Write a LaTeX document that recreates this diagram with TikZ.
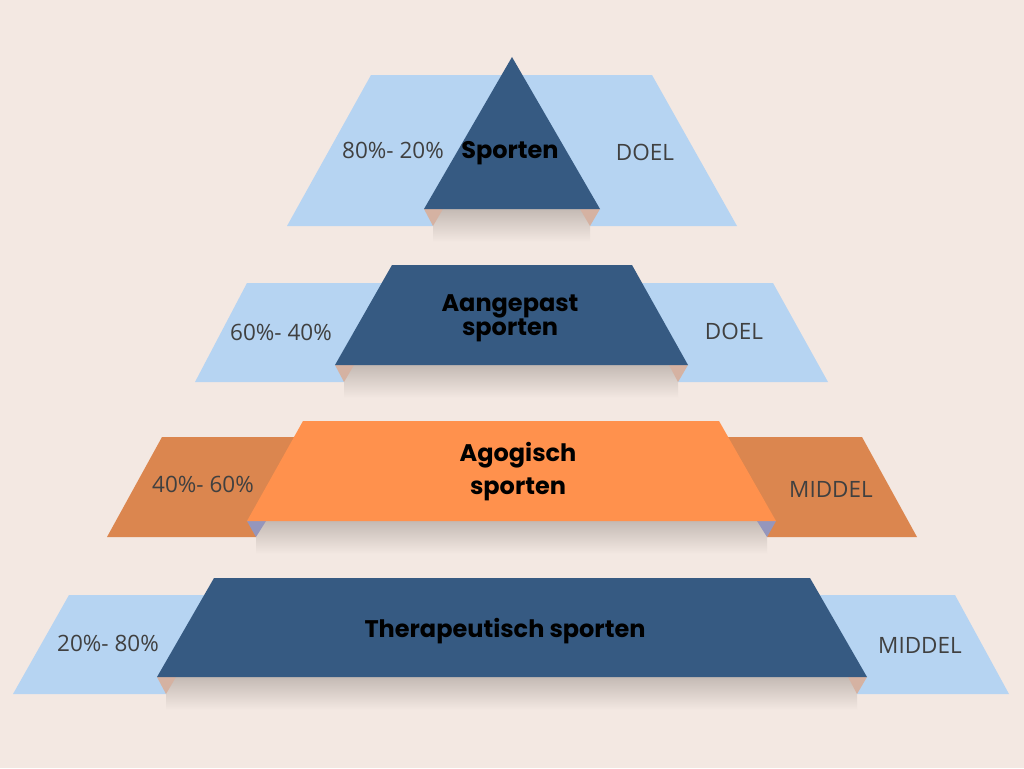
\documentclass[tikz,border=0pt]{standalone}
\usepackage{fontspec}
\setmainfont{Open Sans}
\newfontfamily\kopfont{Poppins}[UprightFont=* SemiBold,BoldFont=* Bold]
\definecolor{achter}{HTML}{F3E8E2}
\definecolor{lichtblauw}{HTML}{B6D4F2}
\definecolor{donkerblauw}{HTML}{365A82}
\definecolor{oranje}{HTML}{FF914D}
\definecolor{bruin}{HTML}{DB864F}
\definecolor{vouwtan}{HTML}{D5B2A2}
\definecolor{vouwpaars}{HTML}{9596BC}
\definecolor{schaduw}{HTML}{C4BAB4}
\definecolor{tekstgrijs}{HTML}{404040}
\tikzset{
	zijtekst/.style={text=tekstgrijs,font=\fontsize{22.5}{26}\selectfont},
	kop/.style={text=black,align=center,font=\kopfont\bfseries\fontsize{24}{29}\selectfont},
	schaduwband/.style={top color=schaduw,bottom color=achter}
}
\begin{document}
\begin{tikzpicture}[x=1pt,y=-1pt]
	\fill[achter] (0,0) rectangle (1024,768);
	\useasboundingbox (0,0) rectangle (1024,768);

	% niveau 1: sporten
	\fill[lichtblauw] (287,226) -- (371,75) -- (652,75) -- (737,226) -- cycle;
	\shade[schaduwband] (433,209) rectangle (590,242);
	\fill[vouwtan] (424,209) -- (443,209) -- (433,226) -- cycle;
	\fill[vouwtan] (580,209) -- (600,209) -- (590,226) -- cycle;
	\fill[donkerblauw] (512,57) -- (600,209) -- (424,209) -- cycle;
	\node[zijtekst] (pctA) at (393,150) {80\%- 20\%};
	\node[zijtekst] (doelA) at (645,152) {DOEL};
	\node[kop] (kopA) at (510,153) {Sporten};

	% niveau 2: aangepast sporten
	\fill[lichtblauw] (247,283) -- (773,283) -- (828,382) -- (195,382) -- cycle;
	\shade[schaduwband] (344,365) rectangle (678,398);
	\fill[vouwtan] (335,365) -- (354,365) -- (344,382) -- cycle;
	\fill[vouwtan] (669,365) -- (688,365) -- (678,382) -- cycle;
	\fill[donkerblauw] (392,265) -- (632,265) -- (688,365) -- (335,365) -- cycle;
	\node[zijtekst] (pctB) at (281,332) {60\%- 40\%};
	\node[zijtekst] (doelB) at (734,331) {DOEL};
	\node[kop] (kopB) at (510,318) {Aangepast\\[-5pt]sporten};

	% niveau 3: agogisch sporten
	\fill[bruin] (162,437) -- (862,437) -- (917,537) -- (107,537) -- cycle;
	\shade[schaduwband] (256,521) rectangle (767,554);
	\fill[vouwpaars] (247,521) -- (266,521) -- (256,537) -- cycle;
	\fill[vouwpaars] (757,521) -- (776,521) -- (767,537) -- cycle;
	\fill[oranje] (303,421) -- (719,421) -- (776,521) -- (247,521) -- cycle;
	\node[zijtekst] (pctC) at (203,484) {40\%- 60\%};
	\node[zijtekst] (middelC) at (831,489) {MIDDEL};
	\node[kop] (kopC) at (518,472) {Agogisch\\[4pt]sporten};

	% niveau 4: therapeutisch sporten
	\fill[lichtblauw] (69,595) -- (955,595) -- (1009,694) -- (13,694) -- cycle;
	\shade[schaduwband] (166,677) rectangle (857,710);
	\fill[vouwtan] (157,677) -- (176,677) -- (166,694) -- cycle;
	\fill[vouwtan] (848,677) -- (867,677) -- (857,694) -- cycle;
	\fill[donkerblauw] (214,578) -- (810,578) -- (867,677) -- (157,677) -- cycle;
	\node[zijtekst] (pctD) at (108,643) {20\%- 80\%};
	\node[zijtekst] (middelD) at (920,645) {MIDDEL};
	\node[kop] (kopD) at (505,631) {Therapeutisch sporten};
\end{tikzpicture}
\end{document}
